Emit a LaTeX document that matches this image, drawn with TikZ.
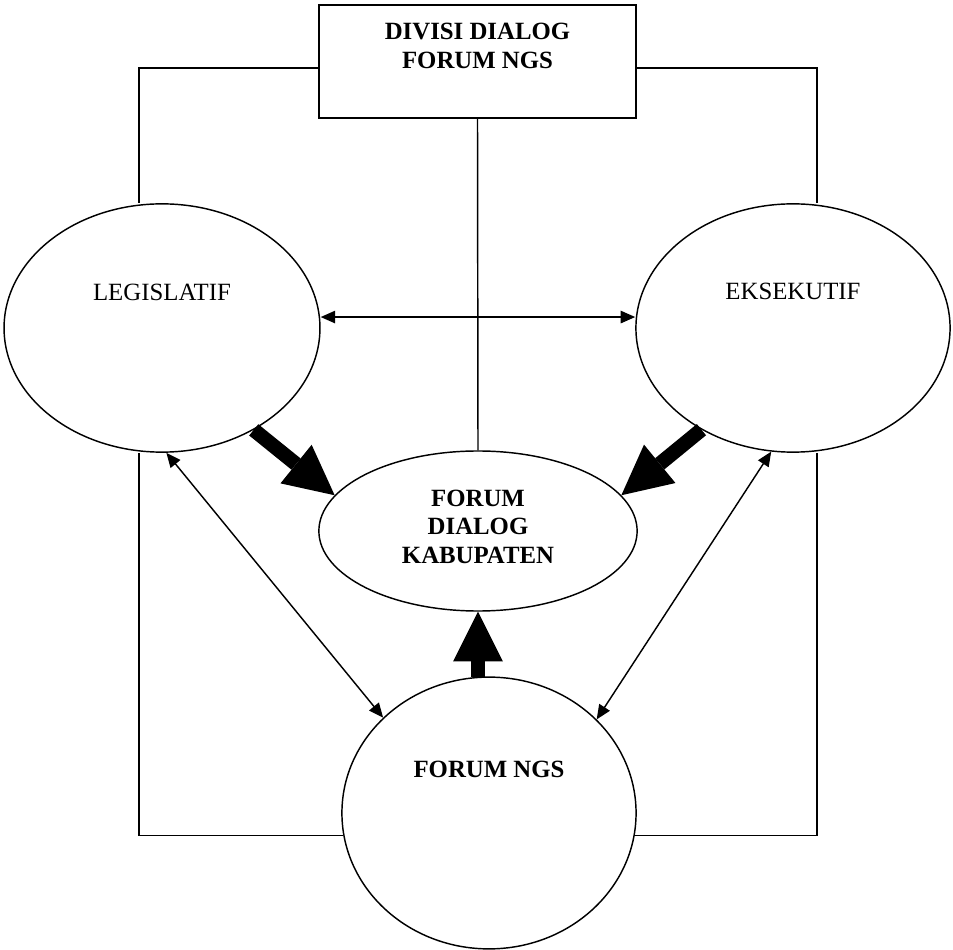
\documentclass[tikz,border=0pt]{standalone}
\usepackage{fontspec}
\setmainfont{Liberation Serif}
\usetikzlibrary{shapes.geometric,arrows.meta}

\begin{document}
\begin{tikzpicture}[x=0.017cm,y=-0.017cm,line width=0.7pt,
  font=\fontsize{12}{14}\selectfont,
  boldtext/.style={font=\fontsize{12}{14}\selectfont\bfseries},
  oval/.style={draw,ellipse,inner sep=0pt},
  thinarrow/.style={{Triangle[length=7pt,width=6pt]}-{Triangle[length=7pt,width=6pt]}},
  fatarrow/.style={-{Triangle[length=24pt,width=24pt,line width=0pt]},line width=7pt}]
\useasboundingbox (0,0) rectangle (953,950);
% the five boxes
\node[draw,minimum width=5.39cm,minimum height=1.92cm,
  label={[boldtext,align=center,yshift=7.5pt]center:DIVISI DIALOG\\FORUM NGS}]
  (divisi) at (477.5,61.5) {};
\node[oval,minimum width=5.37cm,minimum height=4.22cm,
  label={[yshift=17pt]center:LEGISLATIF}] (leg) at (162,328) {};
\node[oval,minimum width=5.34cm,minimum height=4.22cm,
  label={[yshift=17.5pt]center:EKSEKUTIF}] (eks) at (793,328) {};
\node[oval,minimum width=5.41cm,minimum height=2.72cm,
  label={[boldtext,align=center,yshift=2pt]center:FORUM\\DIALOG\\KABUPATEN}]
  (kab) at (478,531) {};
\node[oval,minimum width=5.0cm,minimum height=4.62cm,
  label={[boldtext,yshift=21pt]center:FORUM NGS}] (ngs) at (489,813) {};
\coordinate (lx) at (139,0);
\coordinate (rx) at (817,0);
% plain lines
\draw ([yshift=-3.1pt]divisi.west) -| (lx |- leg.north);
\draw ([yshift=-3.1pt]divisi.east) -| (rx |- eks.north);
\draw (lx |- leg.south) |- ([xshift=1pt,yshift=-11pt]ngs.west);
\draw (rx |- eks.south) |- ([xshift=-1pt,yshift=-11pt]ngs.east);
\draw (divisi.south) -- (kab.north);
% arrows
\draw[thinarrow] ([yshift=5.3pt]leg.east) -- ([yshift=5.3pt]eks.west);
\draw[thinarrow] (leg.-88) -- (ngs.138);
\draw[thinarrow] (eks.-100) -- (ngs.41);
\draw[fatarrow] (leg.-48) -- (kab.166);
\draw[fatarrow] (eks.-132) -- (kab.14);
\draw[fatarrow] ([yshift=-0.5pt]kab.south |- ngs.north) -- (kab.south);
\end{tikzpicture}
\end{document}
